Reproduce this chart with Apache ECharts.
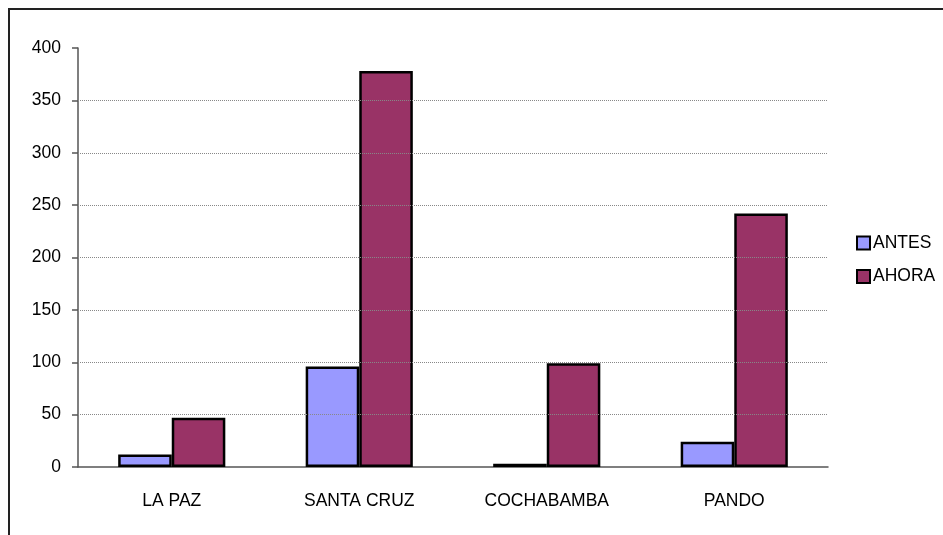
<!DOCTYPE html>
<html>
<head>
<meta charset="utf-8">
<script src="https://cdn.jsdelivr.net/npm/echarts@6/dist/echarts.min.js"></script>
<style>
html,body{margin:0;padding:0;background:#fff;}
#chart{width:943px;height:535px;}
</style>
</head>
<body>
<div id="chart"></div>
<script>
var categories = ['LA PAZ', 'SANTA CRUZ', 'COCHABAMBA', 'PANDO'];
var antes = [12, 96, 3, 24];
var ahora = [47, 378, 99, 242];
var seriesNames = ['ANTES', 'AHORA'];
var gridValues = [50, 100, 150, 200, 250, 300, 350];

var chart = echarts.init(document.getElementById('chart'));
var font = '"Liberation Sans", Arial, sans-serif';
chart.setOption({
  animation: false,
  backgroundColor: '#fff',
  graphic: [{
    type: 'rect',
    shape: {x: 9, y: 9, width: 1000, height: 1000},
    style: {fill: 'none', stroke: '#222', lineWidth: 2},
    silent: true
  }],
  grid: {left: 78, right: 115, top: 48, bottom: 68},
  legend: {
    data: seriesNames,
    orient: 'vertical',
    left: 851,
    top: 229,
    icon: 'rect',
    itemWidth: 13,
    itemHeight: 13,
    itemGap: 15.5,
    textStyle: {fontFamily: font, fontSize: 17.5, color: '#000', lineHeight: 17.5, padding: [0, 0, 0, -2]},
    itemStyle: {borderColor: '#000', borderWidth: 2}
  },
  xAxis: {
    type: 'category',
    data: categories,
    axisLine: {lineStyle: {color: '#555', width: 1.5}},
    axisTick: {length: 6, lineStyle: {color: '#555', width: 1.5}},
    axisLabel: {interval: 0, fontFamily: font, fontSize: 17.5, color: '#000', margin: 25}
  },
  yAxis: {
    type: 'value',
    min: 0,
    max: 400,
    interval: 50,
    axisLine: {show: true, lineStyle: {color: '#555', width: 1.5}},
    axisTick: {show: true, length: 6, lineStyle: {color: '#555', width: 1.5}},
    axisLabel: {fontFamily: font, fontSize: 17.5, color: '#000', margin: 17},
    splitLine: {show: false}
  },
  series: [
    {
      type: 'line',
      data: [],
      z: 1,
      markLine: {
        silent: true,
        symbol: ['none', 'none'],
        label: {show: false},
        lineStyle: {type: 'dotted', color: '#888', width: 1},
        data: gridValues.map(function (v) { return {yAxis: v}; })
      }
    },
    {
      name: seriesNames[0],
      type: 'bar',
      data: antes,
      z: 3,
      barGap: '0%',
      barCategoryGap: '42.86%',
      itemStyle: {color: '#9999FF', borderColor: '#000', borderWidth: 2.5}
    },
    {
      name: seriesNames[1],
      type: 'bar',
      data: ahora,
      z: 3,
      itemStyle: {color: '#993366', borderColor: '#000', borderWidth: 2.5}
    }
  ]
});
</script>
</body>
</html>
